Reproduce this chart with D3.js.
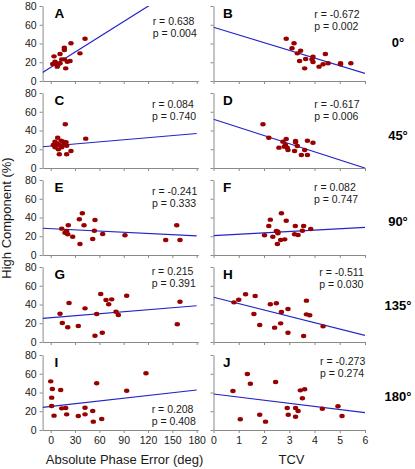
<!DOCTYPE html>
<html>
<head>
<meta charset="utf-8">
<script src="https://cdn.jsdelivr.net/npm/d3@7"></script>
<style>
  html, body { margin: 0; padding: 0; background: #fff; }
  svg { display: block; font-family: "Liberation Sans", Arial, sans-serif; }
</style>
</head>
<body>
<div id="chart"></div>
<script>
// ---------------- DATA ----------------
const panelLetters = ["A", "B", "C", "D", "E", "F", "G", "H", "I", "J"];
const rowLabels = ["0°", "45°", "90°", "135°", "180°"];
const yTicks = [0, 20, 40, 60, 80];
const phaseTicks = [0, 30, 60, 90, 120, 150, 180];
const tcvTicks = [0, 1, 2, 3, 4, 5, 6];

// Panel A (abs phase error vs high component, 0°)
const aX = [42.3, 25, 16.8, 16.8, 36.1, 11.5, 4.1, 13.6, 16.8, 23.8, 20.5, 2.5, 6.5, 9.4, 11.5, 8.1, 18.5, 5.3];
const aY = [45.1, 40.2, 35.5, 33.1, 29.5, 28.8, 26.3, 23.1, 23.1, 21.3, 20.6, 18.1, 18.9, 17.8, 18.9, 15.3, 13.5, 20.6];
// Panel B (TCV, 0°)
const bX = [2.88, 3.19, 3.11, 3.45, 3.32, 4.43, 3.94, 3.65, 3.90, 3.41, 3.94, 4.54, 4.34, 5.03, 5.03, 5.44, 4.18, 3.61];
const bY = [45.1, 40.2, 34.9, 32.3, 29.5, 28.8, 26.0, 23.5, 23.1, 21.3, 20.3, 18.9, 17.8, 18.9, 17.8, 18.9, 15.3, 13.5];
// Panel C (45°)
const cX = [18, 8.6, 43.2, 5.3, 12.7, 18.9, 7.4, 16.8, 3.2, 10.6, 19.7, 5.3, 13.6, 9.4, 25, 10.6, 19.7, 15.5];
const cY = [46.6, 32.3, 31.3, 28.1, 29.1, 27.4, 26.3, 25.6, 24.5, 24.5, 23.8, 22.1, 22.1, 19.9, 18.1, 14.6, 14.6, 28.1];
// Panel D
const dX = [1.96, 2.19, 2.88, 2.75, 3.25, 3.25, 3.72, 3.94, 2.85, 3.32, 2.92, 2.59, 2.95, 3.21, 3.61, 3.48, 3.72, 2.80];
const dY = [46.6, 32.3, 30.9, 28.1, 28.8, 27.4, 29.1, 27.0, 24.5, 23.5, 21.7, 21.7, 19.2, 18.1, 19.2, 13.9, 13.9, 22.8];
// Panel E (90°)
const eX = [39, 35.3, 54.6, 21.7, 41.1, 155.4, 13.6, 19.7, 53.8, 17.6, 21, 64.1, 27.1, 91.6, 51.8, 141.8, 159.4, 36.1];
const eY = [44.5, 38.1, 37.3, 31.7, 31.7, 31.7, 28.1, 25.6, 25.9, 23.8, 22.1, 22.4, 19.5, 21.0, 17.1, 16.0, 16.0, 11.7];
// Panel F
const fX = [2.69, 2.25, 2.88, 2.19, 3.24, 3.57, 3.85, 2.49, 3.52, 2.55, 3.21, 3.35, 2.02, 2.35, 2.82, 2.66, 2.53, 2.55];
const fY = [44.5, 37.7, 36.6, 30.9, 30.9, 30.9, 27.7, 25.6, 25.9, 23.1, 22.1, 21.3, 21.0, 19.5, 16.7, 16.0, 11.7, 24.9];
// Panel G (135°)
const gX = [61.7, 93.7, 68.2, 75.2, 159.4, 22.6, 71.5, 42.3, 80.5, 11.5, 56.7, 83.4, 14.3, 156.1, 34, 21, 63.6, 54.6];
const gY = [51.2, 49.4, 44.8, 45.5, 43.0, 41.6, 40.2, 35.9, 32.3, 30.2, 29.9, 28.8, 20.3, 18.9, 17.1, 15.7, 9.9, 6.7];
// Panel H
const hX = [1.27, 1.65, 1.00, 3.68, 0.81, 2.49, 2.25, 2.95, 2.69, 1.60, 3.68, 3.81, 2.66, 1.83, 4.34, 2.42, 2.95, 3.57];
const hY = [50.9, 49.1, 45.1, 44.1, 42.3, 41.3, 40.2, 35.2, 32.0, 29.9, 29.5, 28.5, 19.9, 18.1, 16.7, 15.3, 9.9, 6.4];
// Panel I (180°)
const iX = [117.5, 0, 56.7, 2, 12.3, 93.7, 1.2, 1.2, 42.3, 13.6, 18.5, 51.8, 19.7, 42.3, 4.1, 34, 62.9, 52.5];
const iY = [60.5, 51.9, 49.8, 43.7, 42.7, 41.9, 34.5, 25.6, 23.8, 23.1, 23.5, 20.3, 16.7, 16.7, 15.3, 14.9, 11.7, 8.9];
// Panel J
const jX = [1.34, 2.46, 1.46, 0.77, 3.44, 3.61, 3.52, 4.93, 2.92, 3.25, 4.31, 3.35, 1.83, 2.96, 3.25, 5.09, 1.06, 2.06];
const jY = [59.7, 51.2, 49.4, 41.6, 42.3, 43.4, 33.8, 25.3, 23.5, 23.5, 22.7, 20.3, 16.3, 16.3, 14.2, 14.9, 11.4, 8.9];

// Regression lines (intercept, slope), and statistics text
const fitIntercept = [14.4, 57.3, 23.4, 52.0, 28.1, 20.6, 26.0, 47.7, 25.2, 38.4];
const fitSlope = [0.5445, -8.2, 0.0745, -8.67, -0.043, 1.48, 0.0705, -6.77, 0.097, -3.32];
const rValues = ["0.638", "-0.672", "0.084", "-0.617", "-0.241", "0.082", "0.215", "-0.511", "0.208", "-0.273"];
const pValues = ["0.004", "0.002", "0.740", "0.006", "0.333", "0.747", "0.391", "0.030", "0.408", "0.274"];

const xTitles = ["Absolute Phase Error (deg)", "TCV"];
const yTitle = "High Component (%)";

// ---------------- LAYOUT ----------------
const W = 415, H = 469;
const rowZero = [81, 168, 255, 342, 430];
const plotH = 75;
const colDef = [
  { domain: [-10, 182], range: [42.6, 198.3], ticks: phaseTicks, lineExtent: [-10, 180] },
  { domain: [0, 6], range: [213.5, 365], ticks: tcvTicks, lineExtent: [0, 6] }
];
// stat text placement (x, r baseline offset from panel top)
const statPos = [
  [152.7, 19], [314.3, 11.5],
  [152, 14.5], [314.3, 15],
  [152, 14.5], [314, 11],
  [151.7, 8], [319.3, 9],
  [151.7, 57.5], [320, 9.5]
];
const rowLabelY = [46.5, 139.7, 225.7, 309.7, 400.7];

const dataX = [aX, bX, cX, dX, eX, fX, gX, hX, iX, jX];
const dataY = [aY, bY, cY, dY, eY, fY, gY, hY, iY, jY];

const dotColor = "#990000";
const lineColor = "#2323c8";
const axisColor = "#8a8a8a";
const textColor = "#1a1a1a";

const svg = d3.select("#chart").append("svg")
  .attr("width", W).attr("height", H);
svg.append("rect").attr("width", W).attr("height", H).attr("fill", "#fff");

panelLetters.forEach((letter, k) => {
  const row = Math.floor(k / 2), col = k % 2;
  const cd = colDef[col];
  const zero = rowZero[row];
  const x = d3.scaleLinear().domain(cd.domain).range(cd.range);
  const y = d3.scaleLinear().domain([0, 80]).range([zero, zero - plotH]);
  const g = svg.append("g");

  // clip for regression line
  const clipId = "clip" + k;
  svg.append("clipPath").attr("id", clipId).append("rect")
    .attr("x", cd.range[0]).attr("y", zero - plotH)
    .attr("width", cd.range[1] - cd.range[0]).attr("height", plotH);

  // x axis
  const xAxis = d3.axisBottom(x).tickValues(cd.ticks).tickSize(3).tickSizeOuter(0)
    .tickPadding(4);
  if (row < 4) xAxis.tickFormat(""); else xAxis.tickFormat(d3.format("d"));
  const gx = g.append("g").attr("transform", `translate(0,${zero})`).call(xAxis);

  // y axis
  const yAxis = d3.axisLeft(y).tickValues(yTicks).tickSize(3).tickSizeOuter(0).tickPadding(3);
  if (col === 1) yAxis.tickFormat("");
  const gy = g.append("g").attr("transform", `translate(${cd.range[0]},0)`).call(yAxis);

  [gx, gy].forEach(ax => {
    ax.select(".domain").attr("stroke", axisColor).attr("stroke-width", 1);
    ax.selectAll(".tick line").attr("stroke", axisColor);
    ax.selectAll(".tick text").attr("fill", textColor)
      .style("font-size", "10.5px").style("font-family", "'Liberation Sans', Arial, sans-serif");
  });

  // regression line
  const lx = cd.lineExtent;
  g.append("line")
    .attr("clip-path", `url(#${clipId})`)
    .attr("x1", x(lx[0])).attr("y1", y(fitIntercept[k] + fitSlope[k] * lx[0]))
    .attr("x2", x(lx[1])).attr("y2", y(fitIntercept[k] + fitSlope[k] * lx[1]))
    .attr("stroke", lineColor).attr("stroke-width", 1.2);

  // points
  g.selectAll("ellipse.dot").data(dataX[k].map((v, i) => [v, dataY[k][i]]))
    .join("ellipse").attr("class", "dot")
    .attr("cx", d => x(d[0])).attr("cy", d => y(d[1]))
    .attr("rx", 2.7).attr("ry", 2.2).attr("fill", dotColor);

  // panel letter
  const top = zero - plotH;
  g.append("text").text(letter)
    .attr("x", cd.range[0] + (col === 0 ? 12 : 9.5)).attr("y", top + 12)
    .attr("font-size", 13.5).attr("font-weight", "bold").attr("fill", "#000");

  // stats
  g.append("text").text("r = " + rValues[k])
    .attr("x", statPos[k][0]).attr("y", top + statPos[k][1])
    .attr("font-size", 10.5).attr("fill", textColor);
  g.append("text").text("p = " + pValues[k])
    .attr("x", statPos[k][0]).attr("y", top + statPos[k][1] + 12)
    .attr("font-size", 10.5).attr("fill", textColor);
});

// Row labels
rowLabels.forEach((lab, r) => {
  svg.append("text").text(lab)
    .attr("x", 398).attr("y", rowLabelY[r]).attr("text-anchor", "middle")
    .attr("font-size", 13).attr("font-weight", "bold").attr("fill", "#000");
});

// Axis titles
svg.append("text").text(xTitles[0])
  .attr("x", 124.5).attr("y", 463.5).attr("text-anchor", "middle")
  .attr("font-size", 13).attr("fill", textColor);
svg.append("text").text(xTitles[1])
  .attr("x", 291.5).attr("y", 463.5).attr("text-anchor", "middle")
  .attr("font-size", 13).attr("fill", textColor);
svg.append("text").text(yTitle)
  .attr("transform", "translate(11,218) rotate(-90)").attr("text-anchor", "middle")
  .attr("font-size", 13).attr("fill", textColor);
</script>
</body>
</html>
